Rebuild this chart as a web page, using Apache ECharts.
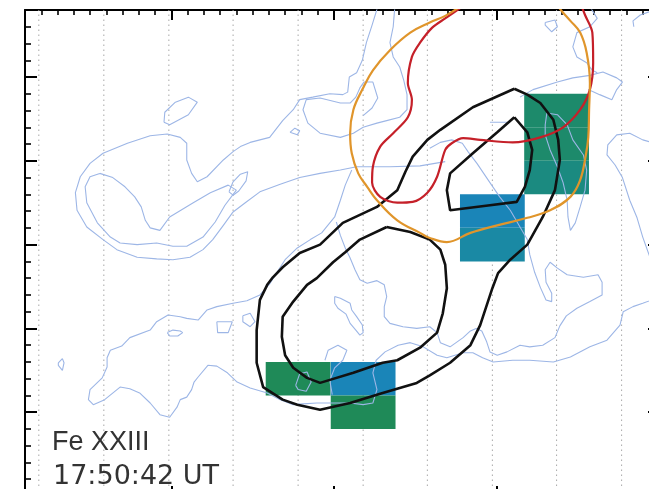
<!DOCTYPE html>
<html>
<head>
<meta charset="utf-8">
<script src="https://cdn.jsdelivr.net/npm/echarts@6/dist/echarts.min.js"></script>
<style>
  html, body { margin: 0; padding: 0; background: #fff; }
  #chart { width: 649px; height: 489px; }
</style>
</head>
<body>
<div id="chart"></div>
<script>
// Solar-X / Solar-Y in arcsec (relative frame)
const xRange = [2, 80];
const yRange = [0, 58];
const xMajorTicks = [20, 40, 60, 80];

// Raster slit centres
const slitX = [3.7, 11.7, 19.7, 27.6, 35.6, 43.6, 51.5, 59.5, 67.4, 75.4];
const slitStep = 7.97;
const rowStep = 4;

// Raster pixels above threshold: slit centre, row centre, colour class
const pixelX = [67.4, 67.4, 67.4, 59.5, 59.5, 35.6, 43.6, 43.6];
const pixelY = [46, 42, 38, 34, 30, 14, 14, 10];
const pixelV = [2, 2, 3, 5, 4, 1, 5, 1];
const pixelColors = ['#ffffff', '#1f8a58', '#1d8a6b', '#1b8a80', '#1a89a4', '#1a85b8'];

// Fe XXIII intensity contours (thick black)
const blackOuter = [[62.2,48.6],[63.8,47.9],[65.4,46.9],[67.0,44.9],[67.6,42.5],[67.8,40.1],[67.2,36.5],[65.7,33.3],[63.8,30.0],[61.7,28.2],[60.2,26.6],[59.5,24.8],[58.0,20.4],[56.8,18.0],[54.3,15.9],[51.8,14.4],[50.2,13.5],[46.0,12.3],[42.0,11.1],[38.3,10.3],[35.5,10.9],[33.7,11.5],[31.3,13.0],[30.5,15.9],[30.5,19.8],[30.9,23.4],[31.8,25.2],[32.5,26.1],[33.7,27.3],[35.8,29.0],[38.3,30.0],[41.1,32.6],[45.3,34.5],[47.8,36.5],[48.8,38.7],[49.7,40.5],[51.5,42.5],[53.1,43.7],[57.1,46.4],[62.2,48.6]];
const blackInnerUpper = [[62.2,45.2],[63.8,43.4],[64.4,41.3],[64.1,38.9],[63.5,36.9],[62.5,35.1],[59.2,34.7],[54.3,34.1],[53.9,36.5],[54.3,38.5],[57.1,40.9],[60.1,43.4],[62.2,45.2]];
const blackInnerLower = [[46.5,32.1],[49.4,31.5],[51.8,30.6],[53.1,29.4],[53.7,27.6],[53.9,24.8],[53.4,21.8],[52.7,19.5],[50.6,17.7],[47.8,16.2],[46.0,15.9],[42.4,14.7],[38.3,13.5],[36.7,14.1],[35.0,15.3],[34.0,16.8],[33.6,19.0],[33.7,21.4],[35.0,23.2],[36.7,25.2],[37.9,26.0],[39.9,27.9],[41.4,29.1],[43.2,30.6],[46.5,32.1]];

// Hard X-ray contours
const redContour = [[55.8,58.4],[53.7,57.0],[52.1,55.9],[50.6,54.1],[49.6,52.4],[49.1,49.3],[49.6,47.3],[49.1,45.2],[47.3,43.3],[45.7,41.7],[44.8,39.3],[44.7,37.4],[45.7,35.7],[47.8,35.0],[49.7,35.1],[51.5,36.2],[52.7,38.1],[53.7,41.3],[54.5,42.1],[55.9,42.7],[58.0,42.5],[62.0,42.2],[65.4,42.8],[68.2,44.0],[70.3,46.1],[71.5,48.5],[71.9,51.7],[71.8,55.3],[70.9,57.4],[70.5,58.4]];
const orangeContour = [[55.5,58.4],[53.7,57.3],[51.8,56.5],[49.4,55.3],[46.9,53.2],[44.8,50.8],[43.5,48.5],[42.4,46.1],[42.0,43.3],[42.2,40.9],[43.0,38.5],[44.1,36.9],[45.3,35.3],[47.8,32.9],[50.6,31.4],[51.8,30.8],[53.9,30.3],[56.8,31.4],[60.1,32.3],[63.8,33.2],[66.6,34.1],[69.1,35.7],[70.3,37.7],[71.0,40.7],[71.3,42.8],[71.4,46.1],[71.5,49.3],[71.1,52.9],[70.3,55.3],[69.1,56.7],[68.1,57.8],[67.6,58.4]];

// EUV context contours (thin blue)
const blueA = [[45.4,58.4],[44.7,56.2],[44.0,54.1],[43.5,52.0],[42.8,50.5],[41.9,50.0],[41.7,48.2],[41.1,47.9],[39.5,48.0],[37.4,47.6],[35.8,47.3],[35.0,46.1],[33.7,44.8],[32.1,42.8],[29.7,42.2],[28.5,41.7],[27.6,41.1],[26.4,40.1],[24.4,38.1],[23.2,37.5],[22.5,38.5],[21.9,40.1],[21.9,42.1],[21.1,42.8],[19.5,43.2],[17.4,43.0],[14.6,42.1],[11.6,40.9],[10.0,39.7],[8.8,38.1],[8.2,36.2],[8.4,34.1],[9.6,32.1],[11.6,30.6],[13.3,29.4],[15.8,28.5],[18.2,28.3],[20.2,28.2],[22.3,28.5],[23.9,29.4],[25.1,30.6],[26.4,32.3],[27.6,33.9],[29.1,35.0],[30.9,36.3],[33.4,37.2],[35.8,38.0],[38.3,38.5],[40.8,38.9],[42.8,39.3],[46.9,39.3],[50.6,39.4],[53.7,39.9]];
const blueTadpole = [[11.2,38.5],[12.8,38.0],[14.3,36.9],[15.5,35.7],[16.3,34.5],[16.8,32.9],[17.4,32.0],[18.6,31.7],[19.8,33.3],[22.7,35.0],[24.8,36.2],[27.0,37.1],[28.0,36.5],[26.6,34.7],[25.4,32.7],[23.9,30.9],[21.9,29.8],[20.2,29.8],[18.2,30.2],[15.8,30.0],[13.7,30.2],[12.5,30.9],[10.9,32.6],[9.6,35.0],[9.4,36.9],[10.0,38.1],[11.2,38.5]];
const blueTear = [[27.1,36.3],[27.6,37.5],[28.5,38.4],[29.4,38.7],[29.2,37.6],[28.3,36.4],[27.6,35.9],[27.1,36.3]];
const blueB = [[47.5,58.4],[47.3,56.0],[46.9,54.1],[47.3,52.4],[48.1,51.2],[48.6,49.6],[49.0,47.9],[49.0,46.1],[48.1,45.2],[46.5,44.8],[45.3,44.5],[43.6,44.0],[42.4,43.3],[40.8,42.8],[38.3,43.3],[36.8,44.5],[36.2,46.1],[36.6,47.3],[38.3,47.5],[40.8,46.9],[42.0,46.9],[42.7,47.6],[43.2,48.7],[43.7,49.4],[44.8,49.4],[45.4,47.5],[44.7,46.3],[43.6,45.4]];
const blueQ = [[42.2,38.9],[41.4,37.1],[40.8,35.3],[40.1,33.3],[38.5,31.4],[37.1,30.6],[35.5,29.6],[34.0,28.2],[33.0,26.7],[32.1,25.3],[30.9,24.0],[29.3,23.3],[27.6,23.0],[25.6,22.6],[24.4,22.2],[23.3,21.0],[21.9,21.2],[21.1,21.4],[19.6,21.6],[18.2,20.8],[17.4,19.8],[14.9,18.9],[13.9,17.9],[12.5,17.4],[12.1,16.5],[12.1,15.4],[11.5,14.1],[10.0,12.7],[9.8,11.5],[10.4,10.9],[11.8,11.5],[13.7,13.0],[14.9,12.8],[16.1,12.3],[17.4,11.1],[18.6,9.7],[19.8,9.4],[20.7,10.6],[21.1,11.5],[21.9,11.8],[22.5,12.7],[22.8,13.6],[23.3,14.2],[24.5,15.6],[25.6,15.5],[26.9,14.7],[28.1,13.6],[29.7,12.9],[31.8,12.3],[33.4,11.5],[35.0,10.9],[36.2,11.0],[37.9,11.1],[39.5,11.1],[42.0,11.1],[43.6,10.9],[44.8,11.1],[45.3,12.7],[44.8,14.7],[45.2,16.2],[46.3,17.2],[47.9,18.0],[49.4,18.3],[51.0,17.8],[52.7,16.8],[53.9,16.5],[55.9,17.1],[57.1,17.1],[58.3,16.5],[59.6,16.0],[62.0,16.2],[64.1,16.2],[67.0,16.0],[69.1,16.6],[71.5,17.8],[73.6,18.6],[75.2,20.4],[75.6,22.0],[76.8,22.6],[78.0,23.0],[80.3,23.8]];
const blueMid = [[40.3,32.7],[40.8,31.1],[41.4,29.6],[42.0,28.4],[42.6,27.0],[43.2,25.8],[44.1,25.4],[45.3,25.7],[46.2,25.2],[46.5,23.8],[46.2,22.6],[46.2,21.4],[46.9,20.6],[48.5,20.2],[50.2,20.0],[51.8,20.2],[52.7,19.5],[53.1,18.3],[54.3,17.8],[55.9,18.9],[56.8,19.7],[57.5,20.0],[58.2,19.7],[58.8,18.4],[59.2,17.2],[60.1,16.8],[61.3,17.2],[62.9,18.0],[64.1,17.8],[65.7,18.0],[67.2,18.9],[67.8,20.3],[68.6,21.5],[69.9,22.4],[71.5,23.2],[73.0,24.0],[73.0,25.5],[72.5,26.4],[70.7,26.1],[68.7,26.4],[67.5,27.2],[66.6,27.9],[66.0,27.0],[66.1,25.5],[66.8,24.2],[66.8,23.2],[66.1,23.4],[65.4,24.9],[64.7,26.7],[64.1,28.8],[63.8,30.6],[62.9,32.1],[61.7,34.1],[60.4,35.7],[59.2,37.4],[57.6,39.7],[56.5,41.1],[55.8,42.1],[54.5,42.5],[53.1,42.2],[51.8,41.5]];
const blueRight1 = [[62.9,47.6],[64.5,48.5],[67.5,49.4],[69.4,49.9],[71.5,50.2],[73.1,50.6],[74.8,49.9],[75.5,49.4],[74.8,48.5],[74.2,47.3],[72.7,47.9],[71.3,48.5]];
const blueRightTop = [[71.5,58.4],[72.4,57.0],[71.5,56.0],[69.9,55.3],[69.4,53.6],[69.9,52.4],[71.1,51.7],[71.8,50.8],[72.4,50.5]];
const blueRightSide = [[80.2,41.9],[78.0,42.5],[76.4,43.3],[74.8,43.1],[73.7,41.9],[73.6,40.7],[74.6,39.5],[75.5,38.0],[76.4,35.3],[77.3,33.2],[78.0,30.9],[79.1,27.9],[80.2,25.8]];
const blueFarTop = [[80.2,58.3],[77.7,57.4],[76.8,56.7],[76.9,56.0]];
const blueIslands = [
  [[19.1,44.6],[19.2,45.8],[20.5,47.0],[22.1,47.6],[23.2,47.0],[22.1,45.5],[19.8,44.3],[19.1,44.6]],
  [[34.6,43.4],[35.2,43.9],[35.8,43.6],[35.5,43.1],[34.6,43.4]],
  [[6.1,15.9],[6.6,16.4],[6.8,15.9],[6.6,15.0],[6.1,15.6],[6.1,15.9]],
  [[19.5,19.5],[20.2,19.8],[21.1,19.7],[21.4,19.5],[20.8,19.1],[19.8,19.1],[19.5,19.5]],
  [[25.6,20.8],[27.5,20.8],[27.0,19.5],[25.7,19.5],[25.6,20.8]],
  [[28.8,21.5],[29.7,21.8],[30.3,20.8],[29.7,20.2],[28.8,20.8],[28.8,21.5]],
  [[40.1,23.8],[40.8,23.6],[42.0,23.0],[42.2,22.2],[42.8,21.4],[43.5,20.4],[43.6,19.5],[43.2,19.2],[42.7,19.8],[42.0,20.6],[41.5,21.7],[40.5,22.4],[40.1,23.0],[40.1,23.8]],
  [[35.3,13.2],[35.8,14.6],[36.7,14.8],[37.2,13.6],[36.6,12.5],[35.6,12.7],[35.3,13.2]],
  [[66.0,56.5],[67.2,56.8],[67.5,56.0],[66.8,55.4],[66.0,56.2],[66.0,56.5]],
  [[66.0,44.3],[66.2,45.7],[67.5,45.5],[68.7,44.3],[69.4,42.5],[70.7,40.7],[71.1,38.9],[70.9,36.5],[70.3,34.5],[69.7,32.6],[69.1,31.7],[68.8,33.3],[68.7,35.3],[68.2,37.4],[67.5,39.3],[66.6,41.3],[66.0,43.1],[66.0,44.3]],
  [[59.2,44.6],[61.3,44.6]],
  [[38.9,16.2],[39.3,17.4],[40.5,18.0],[41.6,17.4],[41.1,16.2],[40.1,15.3],[39.5,13.8],[39.8,12.1]]
];

const labelLine = 'Fe XXIII';
const labelTime = '17:50:42 UT';

function lineSeries(data, color, width, z, smooth) {
  return {
    type: 'line', data: data, symbol: 'none', showSymbol: false,
    smooth: smooth || false, silent: true, animation: false, z: z,
    lineStyle: { color: color, width: width }
  };
}

const series = [];

slitX.forEach(function (x) {
  series.push({
    type: 'line', data: [[x, yRange[0]], [x, yRange[1]]], symbol: 'none',
    silent: true, animation: false, z: 1,
    lineStyle: { color: '#a8a8a8', width: 1, type: [1.5, 3.5] }
  });
});

series.push({
  type: 'custom', z: 2, silent: true, animation: false,
  encode: { x: 0, y: 1 },
  data: pixelX.map(function (x, i) { return [x, pixelY[i], pixelV[i]]; }),
  renderItem: function (params, api) {
    const x = api.value(0), y = api.value(1);
    const p0 = api.coord([x - slitStep / 2, y + rowStep / 2]);
    const p1 = api.coord([x + slitStep / 2, y - rowStep / 2]);
    return {
      type: 'rect',
      shape: { x: p0[0], y: p0[1], width: p1[0] - p0[0], height: p1[1] - p0[1] },
      style: { fill: pixelColors[api.value(2)] }
    };
  }
});

const blueColor = '#9db6e6';
[blueA, blueTadpole, blueTear, blueB, blueQ, blueMid, blueRight1, blueRightTop, blueRightSide, blueFarTop]
  .concat(blueIslands)
  .forEach(function (d) { series.push(lineSeries(d, blueColor, 1.1, 3)); });

[blackOuter, blackInnerUpper, blackInnerLower].forEach(function (d) {
  series.push(lineSeries(d, '#111111', 2.6, 4));
});
series.push(lineSeries(redContour, '#c52029', 2.2, 5, 0.3));
series.push(lineSeries(orangeContour, '#e0952b', 2.2, 5, 0.4));

function xAxisDef(position, major) {
  return {
    type: 'value', min: xRange[0], max: xRange[1], position: position,
    interval: 2,
    axisLine: { show: !major, onZero: false, lineStyle: { color: '#000', width: 2 } },
    axisTick: major
      ? { show: true, inside: true, length: 10, customValues: xMajorTicks, lineStyle: { color: '#000', width: 2 } }
      : { show: true, inside: true, length: 5, lineStyle: { color: '#000', width: 1.6 } },
    axisLabel: { show: false }, splitLine: { show: false }
  };
}
function yAxisDef(position, major) {
  return {
    type: 'value', min: yRange[0], max: yRange[1], position: position,
    interval: major ? 10 : 2,
    axisLine: { show: !major, onZero: false, lineStyle: { color: '#000', width: 2 } },
    axisTick: {
      show: true, inside: true,
      length: major ? (position === 'right' ? 11 : 12) : 6,
      lineStyle: { color: '#000', width: major ? 2 : 1.6 }
    },
    axisLabel: { show: false }, splitLine: { show: false }
  };
}

const chart = echarts.init(document.getElementById('chart'), null, { renderer: 'canvas' });
chart.setOption({
  animation: false,
  backgroundColor: '#ffffff',
  grid: { left: 25, top: 10, width: 634, height: 486, containLabel: false, outerBoundsMode: 'none' },
  xAxis: [xAxisDef('bottom', false), xAxisDef('top', false), xAxisDef('bottom', true), xAxisDef('top', true)],
  yAxis: [yAxisDef('left', false), yAxisDef('right', false), yAxisDef('left', true), yAxisDef('right', true)],
  series: series,
  graphic: [
    { type: 'text', left: 52, top: 429, z: 10, silent: true,
      style: { text: labelLine, font: '27px "Liberation Sans"', fill: '#333' } },
    { type: 'text', left: 53, top: 463, z: 10, silent: true,
      style: { text: labelTime, font: '27px "DejaVu Sans"', fill: '#333' } }
  ]
});
</script>
</body>
</html>
